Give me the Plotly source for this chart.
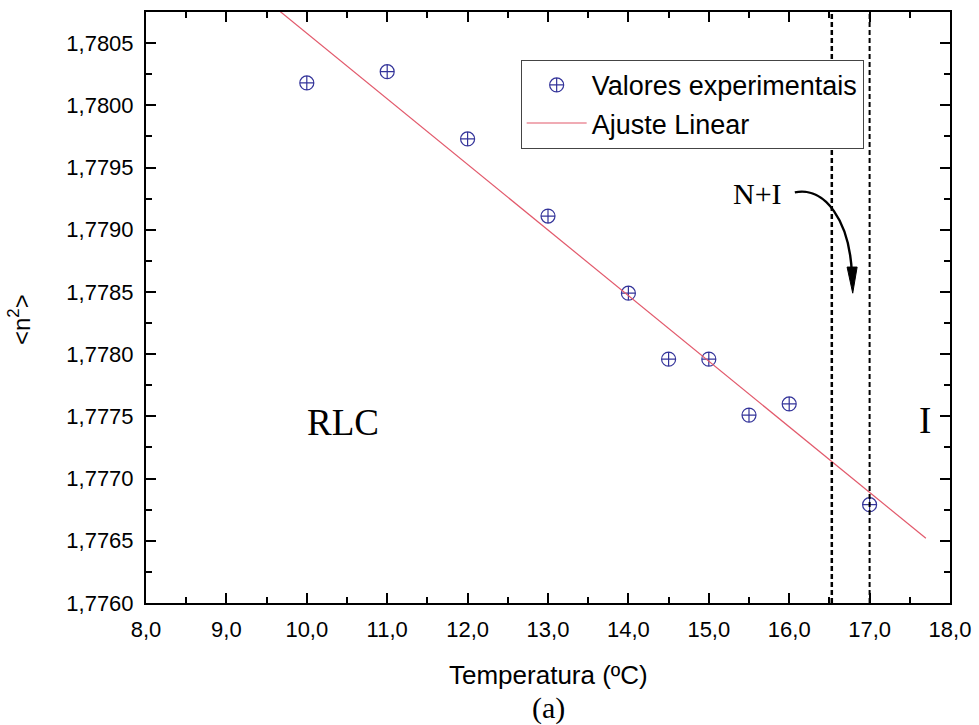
import plotly.graph_objects as go

# Data
temperatura = [10.0, 11.0, 12.0, 13.0, 14.0, 14.5, 15.0, 15.5, 16.0, 17.0]
n2_medio = [1.78018, 1.78027, 1.77973, 1.77911, 1.77849, 1.77796, 1.77796, 1.77751, 1.77760, 1.77679]

ajuste_x = [9.60, 17.70]
ajuste_y = [1.78079, 1.77652]

fronteiras = [16.53, 17.0]

x_ticks = [8.0, 9.0, 10.0, 11.0, 12.0, 13.0, 14.0, 15.0, 16.0, 17.0, 18.0]
y_ticks = [1.7760, 1.7765, 1.7770, 1.7775, 1.7780, 1.7785, 1.7790, 1.7795, 1.7800, 1.7805]

SANS = "Liberation Sans, Arial, sans-serif"
SERIF = "Liberation Serif, Times New Roman, serif"

fig = go.Figure()
fig.add_trace(go.Scatter(
    x=temperatura, y=n2_medio, mode="markers", name="Valores experimentais",
    marker=dict(symbol="circle-cross-open", size=14, color="#34349a",
                line=dict(width=1.2, color="#34349a")),
))
fig.add_trace(go.Scatter(
    x=ajuste_x, y=ajuste_y, mode="lines", name="Ajuste Linear",
    line=dict(color="#e2596b", width=1.2),
))

for i, xv in enumerate(fronteiras):
    fig.add_shape(type="line", xref="x", yref="paper", x0=xv, x1=xv, y0=0, y1=1,
                  line=dict(color="black", width=2.5 if i == 0 else 2, dash="5px,3px"))

# curved arrow N+I
fig.add_shape(type="path", xref="x", yref="y",
              path="M 16.07,1.77930 C 16.445,1.77935 16.756,1.77907 16.78,1.77864",
              line=dict(color="black", width=2.4))
fig.add_shape(type="path", xref="x", yref="y",
              path="M 16.72,1.77870 L 16.845,1.77870 L 16.79,1.77849 Z",
              fillcolor="black", line=dict(color="black", width=1))

fig.add_annotation(x=15.61, y=1.77929, text="N+I", showarrow=False,
                   font=dict(family=SERIF, size=30, color="black"))
fig.add_annotation(x=10.45, y=1.77745, text="RLC", showarrow=False,
                   font=dict(family=SERIF, size=37, color="black"))
fig.add_annotation(x=17.69, y=1.77747, text="I", showarrow=False,
                   font=dict(family=SERIF, size=37, color="black"))

fig.add_annotation(x=0.5, y=-0.122, xref="paper", yref="paper", text="Temperatura (ºC)",
                   xanchor="center", yanchor="middle",
                   showarrow=False, font=dict(family=SANS, size=26, color="black"))
fig.add_annotation(x=0.5, y=-0.178, xref="paper", yref="paper", text="(a)",
                   xanchor="center", yanchor="middle",
                   showarrow=False, font=dict(family=SERIF, size=30, color="black"))
fig.add_annotation(x=-0.157, y=0.48, xref="paper", yref="paper",
                   text="&lt;n<sup>2</sup>&gt;", textangle=-90,
                   xanchor="center", yanchor="middle",
                   showarrow=False, font=dict(family=SANS, size=24, color="black"))

axis_common = dict(showline=True, linecolor="black", linewidth=2, mirror="allticks",
                   ticks="inside", ticklen=10, tickwidth=1.5, tickcolor="black",
                   showgrid=False, zeroline=False, ticklabelstandoff=6, automargin=False,
                   tickfont=dict(family=SANS, size=22, color="black"))

fig.update_xaxes(range=[8.0, 18.0], tickvals=x_ticks, tickformat=".1f",
                 minor=dict(ticks="inside", ticklen=6, tickwidth=1.5, tickcolor="black", dtick=0.5, tick0=8.0),
                 **axis_common)
fig.update_yaxes(range=[1.7760, 1.78075], tickvals=y_ticks, tickformat=".4f",
                 minor=dict(ticks="inside", ticklen=6, tickwidth=1.5, tickcolor="black", dtick=0.00025, tick0=1.7760),
                 **axis_common)

fig.update_layout(
    width=979, height=725,
    margin=dict(l=146, r=29, t=12, b=122),
    paper_bgcolor="white", plot_bgcolor="white",
    separators=",.",
    showlegend=True,
    legend=dict(x=0.466, y=0.919, xanchor="left", yanchor="top",
                bgcolor="white", bordercolor="#444", borderwidth=1,
                font=dict(family=SANS, size=27, color="black"),
                itemwidth=60, tracegroupgap=0),
)

fig.write_html("out.html")
